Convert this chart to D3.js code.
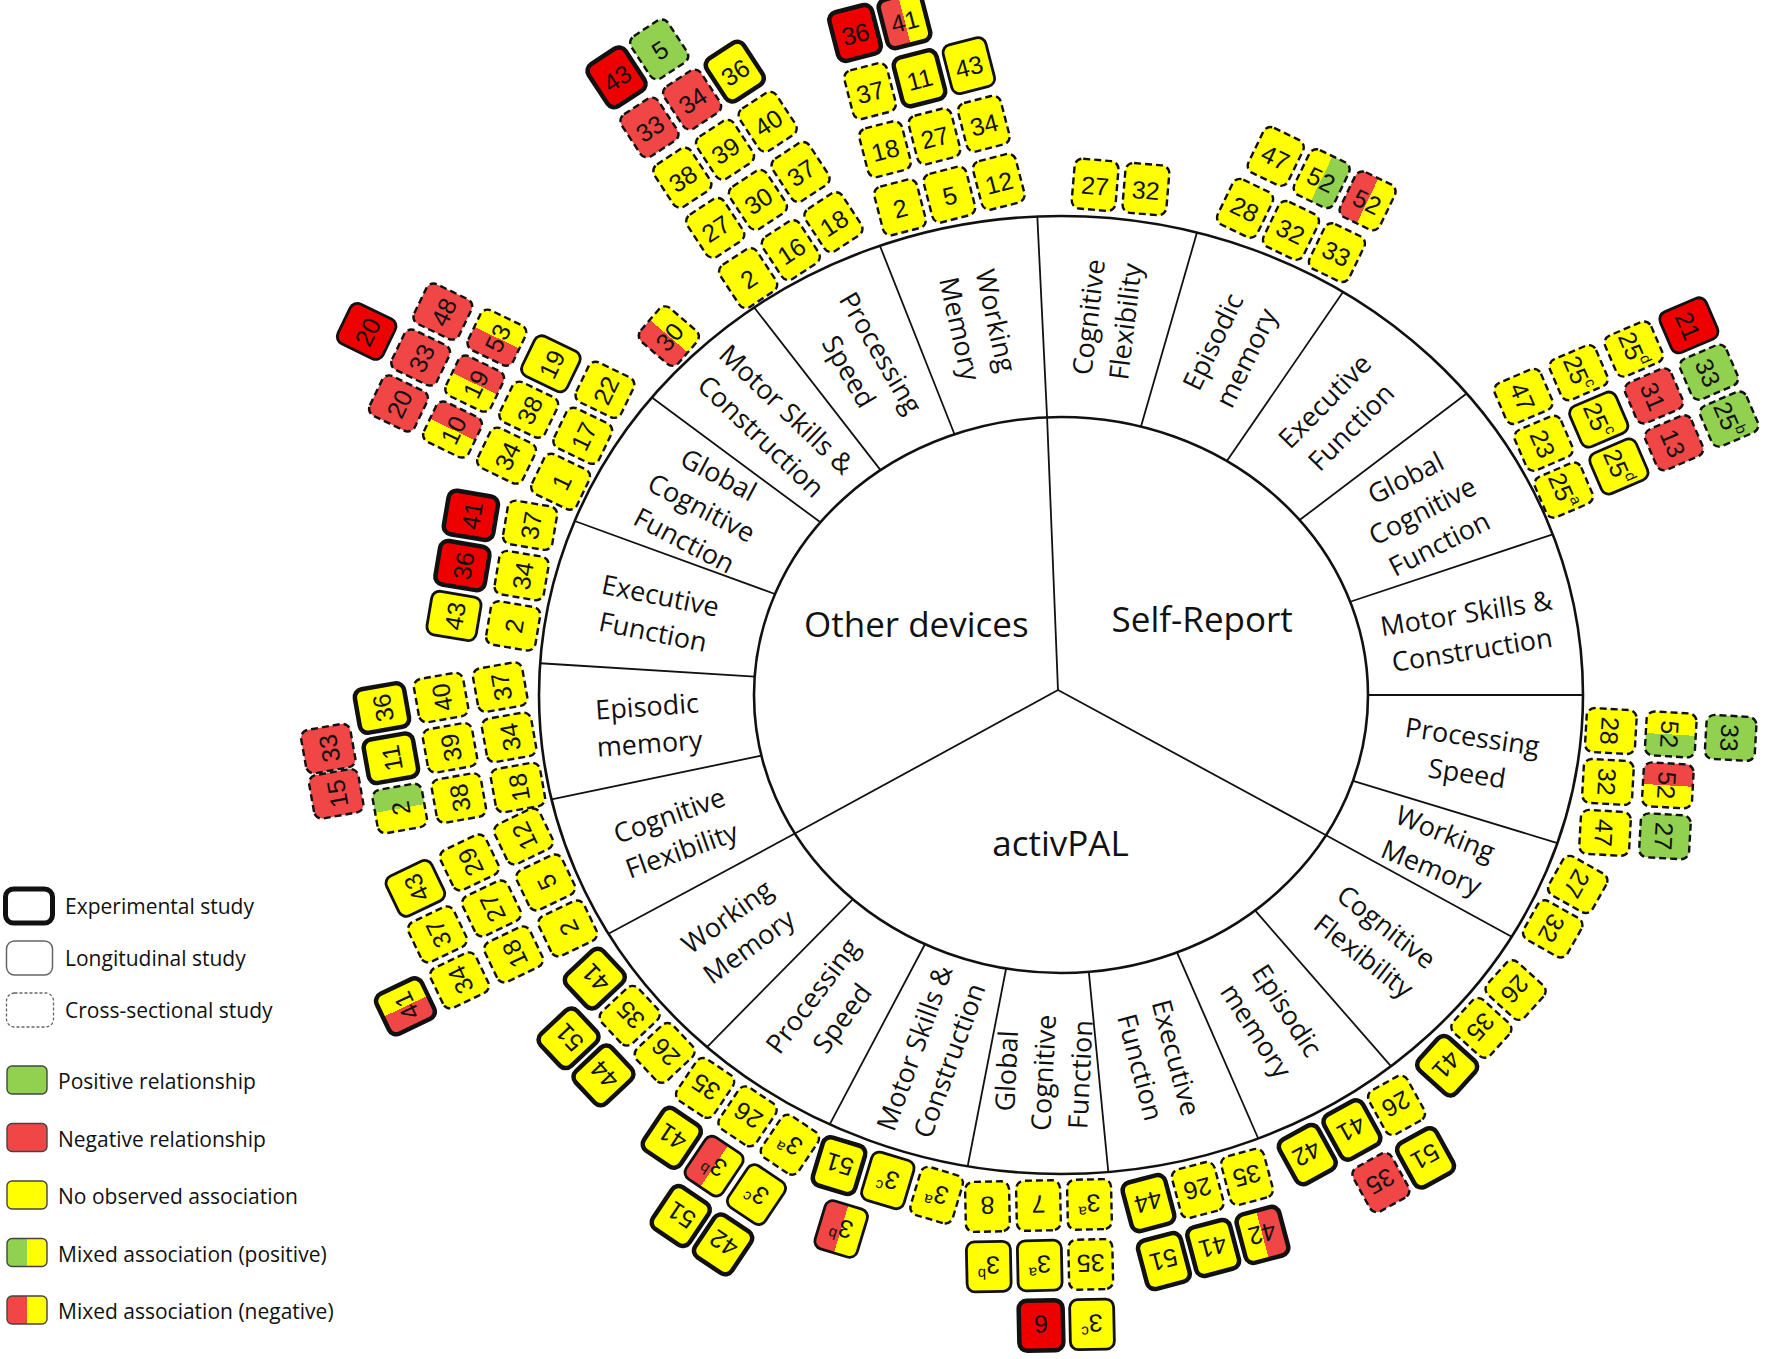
<!DOCTYPE html>
<html lang="en">
<head>
<meta charset="utf-8">
<title>Device-measured sedentary behaviour and cognition</title>
<script src="https://cdn.jsdelivr.net/npm/d3@7/dist/d3.min.js"></script>
<style>
  body { margin: 0; background: #fff; }
  svg text { font-family: "Open Sans", "DejaVu Sans", sans-serif; fill: #111; }
  .tile text { font-family: "Liberation Sans", Arial, sans-serif; }
</style>
</head>
<body>
<div id="chart"></div>
<script>
// devices and cognitive domains, clockwise from the top
var devices = ["Self-Report", "activPAL", "Other devices"];
var domainKeys = ["CF", "EM", "EF", "GCF", "MSC", "PS", "WM"];
var domainLabels = ["Cognitive\nFlexibility", "Episodic\nmemory", "Executive\nFunction",
  "Global\nCognitive\nFunction", "Motor Skills &\nConstruction", "Processing\nSpeed", "Working\nMemory"];

// [domain, ring (outward order), slot (side order), study, design, result]
// design: E experimental, L longitudinal, C cross-sectional
// result: Y none, G positive, R negative, RY / YR / YG mixed (left half / right half)
var selfReport = [
  ["CF",0,-0.5,"27","C","Y"], ["CF",0,0.5,"32","C","Y"],
  ["EM",0,-1,"28","C","Y"], ["EM",0,0,"32","C","Y"], ["EM",0,1,"33","C","Y"],
  ["EM",1,-0.9,"47","C","Y"], ["EM",1,0.1,"52","C","YG"], ["EM",1,1.1,"52","C","RY"],
  ["GCF",0,-1,"47","C","Y"], ["GCF",0,0,"23","C","Y"], ["GCF",0,1,"25a","C","Y"],
  ["GCF",1,-1,"25c","C","Y"], ["GCF",1,0,"25c","L","Y"], ["GCF",1,1,"25d","L","Y"],
  ["GCF",2,-1,"25d","C","Y"], ["GCF",2,0,"31","C","R"], ["GCF",2,1,"13","C","R"],
  ["GCF",3,-1,"21","L","R"], ["GCF",3,0,"33","C","G"], ["GCF",3,1,"25b","C","G"],
  ["PS",0,-1,"28","C","Y"], ["PS",0,0,"32","C","Y"], ["PS",0,1,"47","C","Y"],
  ["PS",1,-1,"52","C","YG"], ["PS",1,0,"52","C","RY"], ["PS",1,1,"27","C","G"],
  ["PS",2,-1,"33","C","G"],
  ["WM",0,-0.5,"27","C","Y"], ["WM",0,0.5,"32","C","Y"]
];
var activPAL = [
  ["CF",0,-1,"26","C","Y"], ["CF",0,0,"35","C","Y"], ["CF",0,1,"41","E","Y"],
  ["EM",0,-1,"26","C","Y"], ["EM",0,0,"41","E","Y"], ["EM",0,1,"42","E","Y"],
  ["EM",1,-1,"51","E","Y"], ["EM",1,0,"35","C","R"],
  ["EF",0,-1,"35","C","Y"], ["EF",0,0,"26","C","Y"], ["EF",0,1,"44","E","Y"],
  ["EF",1,-1,"42","E","RY"], ["EF",1,0,"41","E","Y"], ["EF",1,1,"51","E","Y"],
  ["GCF",0,-1,"3a","C","Y"], ["GCF",0,0,"7","C","Y"], ["GCF",0,1,"8","C","Y"],
  ["GCF",1,-1,"35","C","Y"], ["GCF",1,0,"3a","L","Y"], ["GCF",1,1,"3b","L","Y"],
  ["GCF",2,-1,"3c","L","Y"], ["GCF",2,0,"6","E","R"],
  ["MSC",0,-1,"3a","C","Y"], ["MSC",0,0,"3c","L","Y"], ["MSC",0,1,"51","E","Y"],
  ["MSC",1,0.6,"3b","L","YR"],
  ["PS",0,-1,"3a","C","Y"], ["PS",0,0,"26","C","Y"], ["PS",0,1,"35","C","Y"],
  ["PS",1,-1,"3c","L","Y"], ["PS",1,0,"3b","L","YR"], ["PS",1,1,"41","E","Y"],
  ["PS",2,-1,"42","E","Y"], ["PS",2,0,"51","E","Y"],
  ["WM",0,-1,"26","C","Y"], ["WM",0,0,"35","C","Y"], ["WM",0,1,"41","E","Y"],
  ["WM",1,-0.5,"44","E","Y"], ["WM",1,0.5,"51","E","Y"]
];
var otherDevices = [
  ["CF",0,-1,"2","C","Y"], ["CF",0,0,"5","C","Y"], ["CF",0,1,"12","C","Y"],
  ["CF",1,-1,"18","C","Y"], ["CF",1,0,"27","C","Y"], ["CF",1,1,"29","C","Y"],
  ["CF",2,-1,"34","C","Y"], ["CF",2,0,"37","C","Y"], ["CF",2,1,"43","L","Y"],
  ["CF",3,-1,"41","E","RY"],
  ["EM",0,-1,"18","C","Y"], ["EM",0,0,"34","C","Y"], ["EM",0,1,"37","C","Y"],
  ["EM",1,-1,"38","C","Y"], ["EM",1,0,"39","C","Y"], ["EM",1,1,"40","C","Y"],
  ["EM",2,-1,"2","C","YG"], ["EM",2,0,"11","E","Y"], ["EM",2,1,"36","E","Y"],
  ["EM",3,-0.5,"15","C","R"], ["EM",3,0.4,"33","C","R"],
  ["EF",0,-1,"2","C","Y"], ["EF",0,0,"34","C","Y"], ["EF",0,1,"37","C","Y"],
  ["EF",1,-1,"43","L","Y"], ["EF",1,0,"36","E","R"], ["EF",1,1,"41","E","R"],
  ["GCF",0,-1,"1","C","Y"], ["GCF",0,0,"17","C","Y"], ["GCF",0,1,"22","C","Y"],
  ["GCF",1,-1,"34","C","Y"], ["GCF",1,0,"38","C","Y"], ["GCF",1,1,"19","L","Y"],
  ["GCF",2,-1,"10","C","YR"], ["GCF",2,0,"19","C","YR"], ["GCF",2,1,"53","C","RY"],
  ["GCF",3,-1,"20","C","R"], ["GCF",3,0,"33","C","R"], ["GCF",3,1,"48","C","R"],
  ["GCF",4,0,"20","L","R"],
  ["MSC",0,0,"30","C","RY"],
  ["PS",0,-1,"2","C","Y"], ["PS",0,0,"16","C","Y"], ["PS",0,1,"18","C","Y"],
  ["PS",1,-1,"27","C","Y"], ["PS",1,0,"30","C","Y"], ["PS",1,1,"37","C","Y"],
  ["PS",2,-1,"38","C","Y"], ["PS",2,0,"39","C","Y"], ["PS",2,1,"40","C","Y"],
  ["PS",3,-1,"33","C","R"], ["PS",3,0,"34","C","R"], ["PS",3,1,"36","E","Y"],
  ["PS",4,-1,"43","E","R"], ["PS",4,0,"5","C","G"],
  ["WM",0,-1,"2","C","Y"], ["WM",0,0,"5","C","Y"], ["WM",0,1,"12","C","Y"],
  ["WM",1,-1,"18","C","Y"], ["WM",1,0,"27","C","Y"], ["WM",1,1,"34","C","Y"],
  ["WM",2,-1,"37","C","Y"], ["WM",2,0,"11","E","Y"], ["WM",2,1,"43","L","Y"],
  ["WM",3,-1,"36","E","R"], ["WM",3,0,"41","E","RY"]
];
var designLegend = ["Experimental study", "Longitudinal study", "Cross-sectional study"];
var resultLegend = ["Positive relationship", "Negative relationship", "No observed association",
  "Mixed association (positive)", "Mixed association (negative)"];

// layout: sector boundaries (degrees clockwise from top, ellipse parameter),
// small per-sector tilt and side offset of the tile stacks
var sectorEdges = [-2.6, 15.1, 32.7, 51, 70.4, 90, 108, 120.3, 140.8, 157.8, 174.8,
  190.3, 206.3, 222.7, 240.1, 257.4, 273.8, 291.3, 308.4, 324, 339.7, 357.4];
var tilt = [-2,0,0,4,0,-5,7, 4,4,0,-4,-3,-3,-7, -6,-6,-2,-2,-3,-3,-2];
var shift = [0,0.1,0,-0.1,0,0.2,0, 0,-0.2,-0.1,0,0,0,0, 0,0,0.2,0.15,-0.2,-0.15,0];

var W = 1770, H = 1359, rad = Math.PI / 180;
var cx = 1061, cy = 695, hub = [1058, 690];
var outer = [522, 479], inner = [307, 278], middle = [414, 378];
var tileW = 44, tileH = 50, ring0 = 32, ringStep = 60, slotStep = 51;

var colors = { Y: "#ffff00", G: "#92d050", R: "#f04646", RS: "#ee0000" };
var mixes = { RY: ["R", "Y"], YR: ["Y", "R"], YG: ["Y", "G"], GY: ["G", "Y"] };

function ell(r, phi) { return [cx + r[0] * Math.sin(phi * rad), cy - r[1] * Math.cos(phi * rad)]; }
function heading(p) { return Math.atan2(p[0] - cx, cy - p[1]) / rad; }

var svg = d3.select("#chart").append("svg").attr("width", W).attr("height", H);
svg.append("rect").attr("width", W).attr("height", H).attr("fill", "#fff");

var defs = svg.append("defs");
Object.keys(mixes).forEach(function (key) {
  var lg = defs.append("linearGradient").attr("id", "mix" + key)
    .attr("x1", 0).attr("x2", 1).attr("y1", 0).attr("y2", 0);
  lg.append("stop").attr("offset", "50%").attr("stop-color", colors[mixes[key][0]]);
  lg.append("stop").attr("offset", "50%").attr("stop-color", colors[mixes[key][1]]);
});

function fillFor(result, design) {
  if (mixes[result]) return "url(#mix" + result + ")";
  if (result === "R") return design === "C" ? colors.R : colors.RS;
  return colors[result];
}
var strokeW = { E: 4.5, L: 2.8, C: 2.4 };

/*
 * sectors
 */
var sectors = [];
devices.forEach(function (dev, i) {
  domainKeys.forEach(function (key, j) {
    var k = i * 7 + j;
    sectors.push({ k: k, device: dev, key: key, label: domainLabels[j],
      mid: (sectorEdges[k] + sectorEdges[k + 1]) / 2 });
  });
});

// rings and dividers
var ring = svg.append("g").attr("fill", "none").attr("stroke", "#111");
ring.append("ellipse").attr("cx", cx).attr("cy", cy).attr("rx", outer[0]).attr("ry", outer[1]).attr("stroke-width", 2.6);
ring.append("ellipse").attr("cx", cx).attr("cy", cy).attr("rx", inner[0]).attr("ry", inner[1]).attr("stroke-width", 2.6);
sectorEdges.slice(0, 21).forEach(function (e, k) {
  var a = ell(inner, e), b = ell(outer, e);
  ring.append("line").attr("x1", a[0]).attr("y1", a[1]).attr("x2", b[0]).attr("y2", b[1]).attr("stroke-width", 1.8);
  if (k % 7 === 0) {
    ring.append("line").attr("x1", hub[0]).attr("y1", hub[1]).attr("x2", a[0]).attr("y2", a[1]).attr("stroke-width", 1.8);
  }
});

// domain labels
sectors.forEach(function (s) {
  var p = ell(middle, s.mid), a = heading(p);
  if (a < 0) a += 360;
  var rot = a < 180 ? a - 90 : a + 90;
  var lines = s.label.split("\n");
  var t = svg.append("text").attr("transform", "translate(" + p[0] + "," + p[1] + ") rotate(" + rot + ")")
    .attr("text-anchor", "middle").attr("font-size", 27);
  lines.forEach(function (l, i) {
    t.append("tspan").attr("x", 0).attr("y", (i - (lines.length - 1) / 2) * 37)
      .attr("dominant-baseline", "central").text(l);
  });
});

// device labels
devices.forEach(function (dev, i) {
  var mid = (sectorEdges[i * 7] + sectorEdges[i * 7 + 7]) / 2;
  svg.append("text").attr("x", cx + 165 * Math.sin(mid * rad)).attr("y", cy - 148 * Math.cos(mid * rad))
    .attr("text-anchor", "middle").attr("dominant-baseline", "central")
    .attr("font-size", 35).text(dev);
});

/*
 * tiles
 */
function toTile(devIndex, r) {
  var k = devIndex * 7 + domainKeys.indexOf(r[0]);
  var s = sectors[k];
  var P = ell(outer, s.mid);
  var a = (heading(P) + tilt[k]) * rad;
  var d = [Math.sin(a), -Math.cos(a)], t = [Math.cos(a), Math.sin(a)];
  var out = ring0 + r[1] * ringStep, side = (r[2] + shift[k]) * slotStep;
  var m = /^(\d+)([a-z]?)$/.exec(r[3]);
  return { x: P[0] + out * d[0] + side * t[0], y: P[1] + out * d[1] + side * t[1], rot: a / rad,
    num: m[1], sup: m[2], design: r[4], result: r[5] };
}
var tiles = [].concat(
  selfReport.map(function (r) { return toTile(0, r); }),
  activPAL.map(function (r) { return toTile(1, r); }),
  otherDevices.map(function (r) { return toTile(2, r); })
);

var tg = svg.selectAll("g.tile").data(tiles).enter().append("g").attr("class", "tile")
  .attr("transform", function (d) { return "translate(" + d.x + "," + d.y + ") rotate(" + d.rot + ")"; });
tg.append("rect")
  .attr("x", -tileW / 2).attr("y", -tileH / 2).attr("width", tileW).attr("height", tileH).attr("rx", 8)
  .attr("fill", function (d) { return fillFor(d.result, d.design); })
  .attr("stroke", "#111")
  .attr("stroke-width", function (d) { return strokeW[d.design]; })
  .attr("stroke-dasharray", function (d) { return d.design === "C" ? "7 4" : null; });
var tt = tg.append("text").attr("text-anchor", "middle").attr("dominant-baseline", "central")
  .attr("font-size", 25).attr("y", 1);
tt.append("tspan").text(function (d) { return d.num; });
tt.filter(function (d) { return d.sup; }).append("tspan")
  .attr("font-size", 15).attr("dy", -9).text(function (d) { return d.sup; });

/*
 * legend
 */
var lg = svg.append("g");
var designBox = [
  { x: 5.5, w: 47, h: 34, sw: 5, stroke: "#111", dash: null },
  { x: 6.5, w: 46, h: 34, sw: 1.5, stroke: "#666", dash: null },
  { x: 6.5, w: 47, h: 34, sw: 1.3, stroke: "#666", dash: "3 2" }
];
designLegend.forEach(function (name, i) {
  var y = 889 + i * 52;
  var b = designBox[i];
  lg.append("rect").attr("x", b.x).attr("y", y).attr("width", b.w).attr("height", b.h).attr("rx", 8)
    .attr("fill", "#fff").attr("stroke", b.stroke).attr("stroke-width", b.sw).attr("stroke-dasharray", b.dash);
  lg.append("text").attr("x", 65).attr("y", y + b.h / 2).attr("dominant-baseline", "central")
    .attr("font-size", 21).text(name);
});
var resultFill = ["G", "RS", "Y", "GY", "RY"];
resultLegend.forEach(function (name, i) {
  var y = 1066 + i * 57.5;
  var code = resultFill[i];
  lg.append("rect").attr("x", 7).attr("y", y).attr("width", 40).attr("height", 28).attr("rx", 5)
    .attr("fill", mixes[code] ? "url(#mix" + code + ")" : (code === "RS" ? colors.R : colors[code]))
    .attr("stroke", "#444").attr("stroke-width", 1.4);
  lg.append("text").attr("x", 58).attr("y", y + 15).attr("dominant-baseline", "central")
    .attr("font-size", 21).text(name);
});
</script>
</body>
</html>
